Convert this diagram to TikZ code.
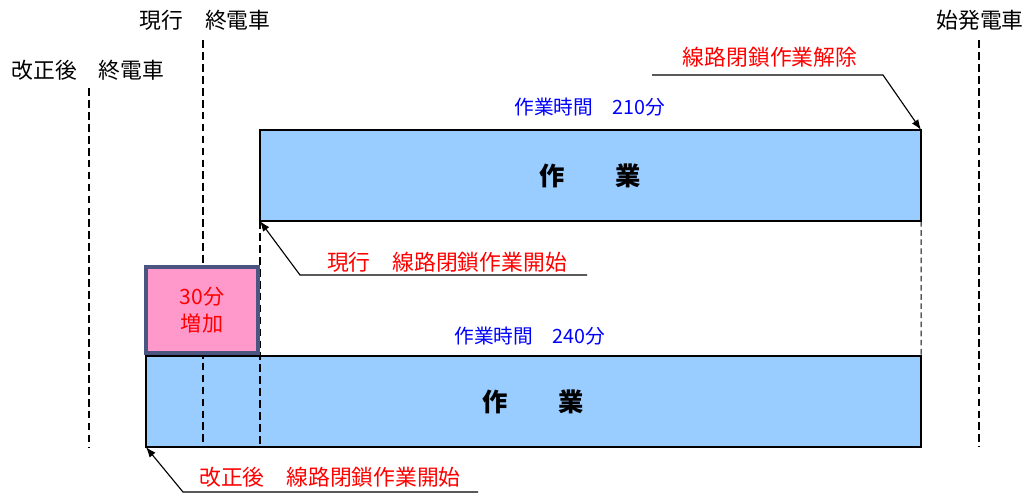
\documentclass[tikz,border=0pt]{standalone}
\usepackage{fontspec}
\setmainfont{Noto Sans CJK JP}
\usetikzlibrary{arrows.meta}
\definecolor{WorkBlue}{HTML}{99CCFF}
\definecolor{PlusPink}{HTML}{FF99CC}
\definecolor{PlusEdge}{HTML}{4A5582}

\begin{document}
\begin{tikzpicture}[x=0.025cm,y=-0.025cm,
    work/.style={draw,line width=1.4pt,fill=WorkBlue,inner sep=0pt,outer sep=0pt,
        minimum height=2.275cm,font=\fontsize{18}{18}\selectfont\bfseries},
    plus/.style={draw=PlusEdge,line width=2.6pt,fill=PlusPink,inner sep=0pt,
        minimum width=2.8cm,minimum height=2.15cm,align=center,text=red,
        font=\fontsize{15}{19}\selectfont},
    tag/.style={inner sep=0pt,font=\fontsize{15.5}{15.5}\selectfont},
    redtag/.style={tag,text=red},
    bluetag/.style={inner sep=0pt,text=blue,font=\fontsize{14}{14}\selectfont},
    cut/.style={line width=1.1pt,dash pattern=on 5.5pt off 3pt},
    thincut/.style={line width=0.6pt,dash pattern=on 4pt off 2.5pt},
    pointer/.style={line width=0.8pt,-{Latex[length=2.6mm,width=1.9mm]}}]
    \useasboundingbox (0,0) rectangle (1027,495);
    % work blocks
    \node[work,minimum width=16.525cm] (now) at (590.5,175.5) {作　　業};
    \node[work,minimum width=19.375cm] (new) at (533.5,401.5) {作　　業};
    % time marks
    \node[tag] (lastnow) at (205,20) {現行　終電車};
    \node[tag] (lastnew) at (88,70) {改正後　終電車};
    \node[tag] (first) at (980,20) {始発電車};
    \coordinate (c1) at (89,88);
    \coordinate (c2) at (203,40);
    \coordinate (c3) at (979,40);
    \draw[cut] (c1) -- (c1 |- new.south);
    \draw[cut] (c2) -- (c2 |- new.south);
    \draw[cut] (now.south west) -- (now.south west |- new.south);
    \draw[thincut] (now.south east) -- (new.north east);
    \draw[cut] (c3) -- (c3 |- new.south);
    \node[plus] (plus) at (202,310) {30分\\増加};
    % durations
    \node[bluetag] (time1) at (590,107) {作業時間　210分};
    \node[bluetag] (time2) at (530,336) {作業時間　240分};
    % closure labels
    \node[redtag] (release) at (770,57) {線路閉鎖作業解除};
    \node[redtag] (start1) at (447,262) {現行　線路閉鎖作業開始};
    \node[redtag] (start2) at (330,477) {改正後　線路閉鎖作業開始};
    \coordinate (r1) at (652,75);
    \coordinate (r2) at (883,75);
    \coordinate (s1) at (587,275);
    \coordinate (s2) at (300,275);
    \coordinate (t1) at (478,492);
    \coordinate (t2) at (183,492);
    \draw[pointer] (r1) -- (r2) -- (now.north east);
    \draw[pointer] (s1) -- (s2) -- (now.south west);
    \draw[pointer] (t1) -- (t2) -- (new.south west);
\end{tikzpicture}
\end{document}
